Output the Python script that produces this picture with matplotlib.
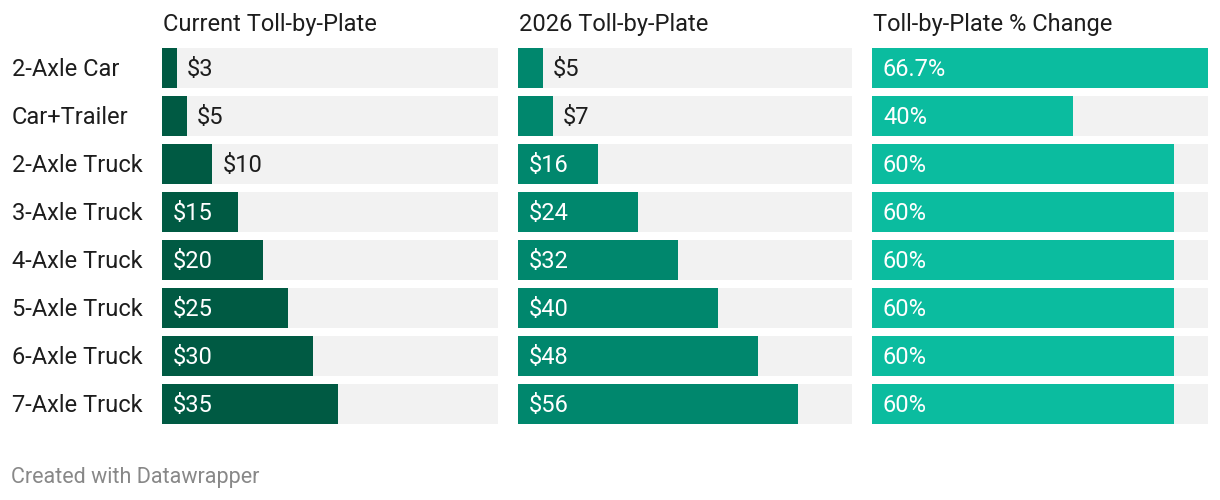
import matplotlib.pyplot as plt

plt.rcParams['font.family'] = ['Roboto', 'DejaVu Sans']

# data
vehicles = ["2-Axle Car", "Car+Trailer", "2-Axle Truck", "3-Axle Truck",
            "4-Axle Truck", "5-Axle Truck", "6-Axle Truck", "7-Axle Truck"]
current_toll = [3, 5, 10, 15, 20, 25, 30, 35]
toll_2026 = [5, 7, 16, 24, 32, 40, 48, 56]
pct_change = [66.7, 40, 60, 60, 60, 60, 60, 60]

current_labels = ["$%d" % v for v in current_toll]
labels_2026 = ["$%d" % v for v in toll_2026]
pct_labels = ["%g%%" % v for v in pct_change]

titles = ["Current Toll-by-Plate", "2026 Toll-by-Plate", "Toll-by-Plate % Change"]
colors = ["#005a43", "#00876d", "#0bbc9f"]
bg_color = "#f2f2f2"
text_dark = "#1d1d1d"
fs = 17

W, H = 1220, 500
fig = plt.figure(figsize=(W / 100, H / 100), dpi=100)

x_max = max(max(current_toll), max(toll_2026), max(pct_change))
panels = [
    (162, 336, current_toll, current_labels),
    (518, 334, toll_2026, labels_2026),
    (872, 336, pct_change, pct_labels),
]

rows = list(range(len(vehicles)))
top, bottom = 44, 428
base_off = 8.3 / 48  # baseline offset below row centre, in row units

for i, (left, width, vals, labs) in enumerate(panels):
    ax = fig.add_axes([left / W, 1 - bottom / H, width / W, (bottom - top) / H])
    ax.barh(rows, [x_max] * len(rows), height=40 / 48, color=bg_color, linewidth=0)
    ax.barh(rows, vals, height=40 / 48, color=colors[i], linewidth=0)
    ax.set_xlim(0, x_max)
    ax.set_ylim(len(rows) - 0.5, -0.5)
    ax.axis('off')
    px = width / x_max
    for r, v, lab in zip(rows, vals, labs):
        bar_px = v * px
        if bar_px > 11 * len(lab) + 20:
            ax.text(11 / px, r + base_off, lab, color="white", fontsize=fs,
                    va="baseline", ha="left")
        else:
            ax.text(v + 10 / px, r + base_off, lab, color=text_dark, fontsize=fs,
                    va="baseline", ha="left")
    fig.text((left + 1) / W, 1 - 31 / H, titles[i], fontsize=fs, color=text_dark,
             va="baseline", ha="left")

# row labels
for r, name in enumerate(vehicles):
    fig.text(12 / W, 1 - (68 + 48 * r + 8.3) / H, name, fontsize=fs,
             color=text_dark, va="baseline", ha="left")

fig.text(11 / W, 1 - 483 / H, "Created with Datawrapper", fontsize=15.5,
         color="#888888", va="baseline", ha="left")

fig.savefig("out.png", dpi=100, facecolor="white")
